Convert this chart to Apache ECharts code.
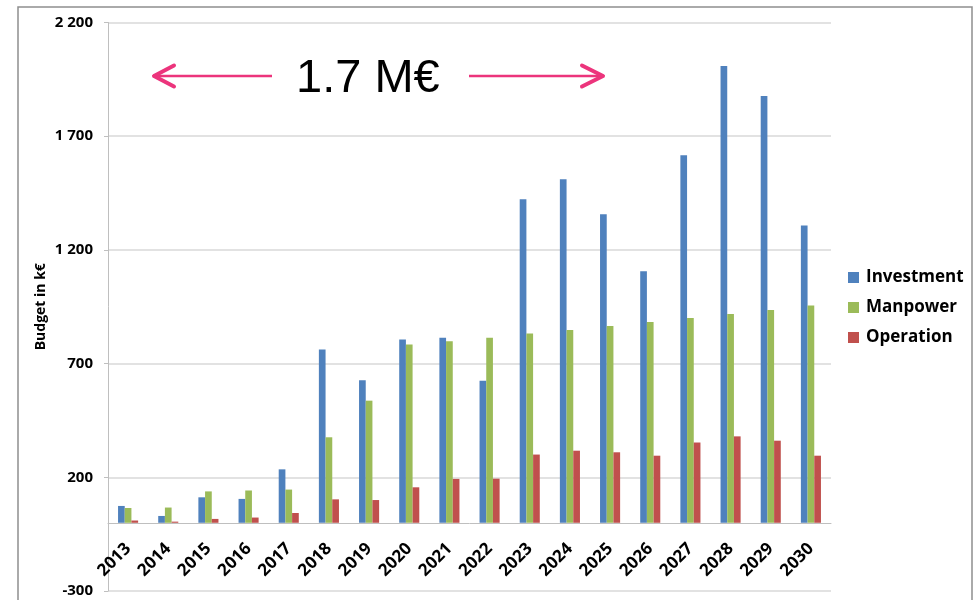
<!DOCTYPE html>
<html>
<head>
<meta charset="utf-8">
<script src="https://cdn.jsdelivr.net/npm/echarts@6/dist/echarts.min.js"></script>
<style>
  html, body { margin: 0; padding: 0; background: #fff; }
  #chart { width: 977px; height: 600px; }
</style>
</head>
<body>
<div id="chart"></div>
<script>
const years = ['2013','2014','2015','2016','2017','2018','2019','2020','2021','2022','2023','2024','2025','2026','2027','2028','2029','2030'];
const investment = [74, 30, 112, 105, 235, 762, 627, 806, 814, 625, 1423, 1511, 1357, 1106, 1616, 2009, 1877, 1307];
const manpower   = [65, 67, 138, 142, 146, 376, 537, 784, 798, 814, 832, 848, 865, 883, 901, 918, 936, 955];
const operation  = [10, 5, 17, 23, 43, 103, 100, 156, 193, 194, 300, 317, 310, 295, 353, 380, 361, 295];
const seriesNames = ['Investment', 'Manpower', 'Operation'];
const seriesColors = ['#4F81BD', '#9BBB59', '#C0504D'];
const annotationText = '1.7 M€';

const chart = echarts.init(document.getElementById('chart'), null, { renderer: 'canvas' });
const pink = '#EC347C';
const fmt = v => {
  const s = Math.abs(v).toString().replace(/\B(?=(\d{3})+(?!\d))/g, ' ');
  return (v < 0 ? '-' : '') + s;
};
const seriesData = [investment, manpower, operation];

chart.setOption({
  backgroundColor: '#ffffff',
  animation: false,
  grid: { left: 108, top: 22.5, width: 723, height: 568.5, containLabel: false, outerBoundsMode: 'none' },
  legend: {
    orient: 'vertical',
    left: 843,
    top: 264,
    itemWidth: 11,
    itemHeight: 11,
    itemGap: 13,
    icon: 'rect',
    data: seriesNames,
    textStyle: { fontFamily: 'Open Sans', fontWeight: 'bold', fontSize: 17, color: '#000', padding: [0, 0, 0, 2] }
  },
  xAxis: {
    type: 'category',
    data: years,
    axisLine: { onZero: true, lineStyle: { color: '#BFBFBF', width: 1 } },
    axisTick: { show: false },
    axisLabel: {
      rotate: 45,
      margin: -45,
      interval: 0,
      fontFamily: 'Open Sans',
      fontWeight: 'bold',
      fontSize: 17,
      color: '#000'
    },
    splitLine: { show: false }
  },
  yAxis: {
    type: 'value',
    min: -300,
    max: 2200,
    interval: 500,
    name: 'Budget in k€',
    nameLocation: 'middle',
    nameGap: 60,
    nameMoveOverlap: false,
    nameTextStyle: { fontFamily: 'Open Sans', fontWeight: 'bold', fontSize: 14, color: '#000' },
    axisLine: { show: true, lineStyle: { color: '#BFBFBF', width: 1 } },
    axisTick: { show: true, length: 4, lineStyle: { color: '#BFBFBF' } },
    axisLabel: {
      margin: 15,
      formatter: fmt,
      fontFamily: 'Open Sans',
      fontWeight: 'bold',
      fontSize: 15,
      color: '#000'
    },
    splitLine: { show: true, lineStyle: { color: '#D9D9D9', width: 1.5 } }
  },
  series: seriesNames.map((n, i) => ({
    name: n,
    type: 'bar',
    data: seriesData[i],
    barGap: '0%',
    barCategoryGap: '50%',
    itemStyle: { color: seriesColors[i] }
  })),
  graphic: [
    {
      type: 'rect',
      shape: { x: 18, y: 7, width: 954, height: 640 },
      style: { fill: 'none', stroke: '#8F8F8F', lineWidth: 1.5 },
      silent: true, z: -1
    },
    {
      type: 'text',
      x: 296, y: 79,
      style: { text: annotationText, font: '47px "Liberation Sans"', fill: '#000', textAlign: 'left', textVerticalAlign: 'middle' }
    },
    { type: 'polyline', shape: { points: [[153, 76], [272, 76]] }, style: { stroke: pink, lineWidth: 2.5, fill: 'none' } },
    { type: 'polyline', shape: { points: [[174, 65.5], [154, 76], [174, 86.5]] }, style: { stroke: pink, lineWidth: 4, fill: 'none', lineCap: 'round', lineJoin: 'round' } },
    { type: 'polyline', shape: { points: [[469, 76], [603, 76]] }, style: { stroke: pink, lineWidth: 2.5, fill: 'none' } },
    { type: 'polyline', shape: { points: [[582, 65.5], [603, 76], [582, 86.5]] }, style: { stroke: pink, lineWidth: 4, fill: 'none', lineCap: 'round', lineJoin: 'round' } }
  ]
});
</script>
</body>
</html>
